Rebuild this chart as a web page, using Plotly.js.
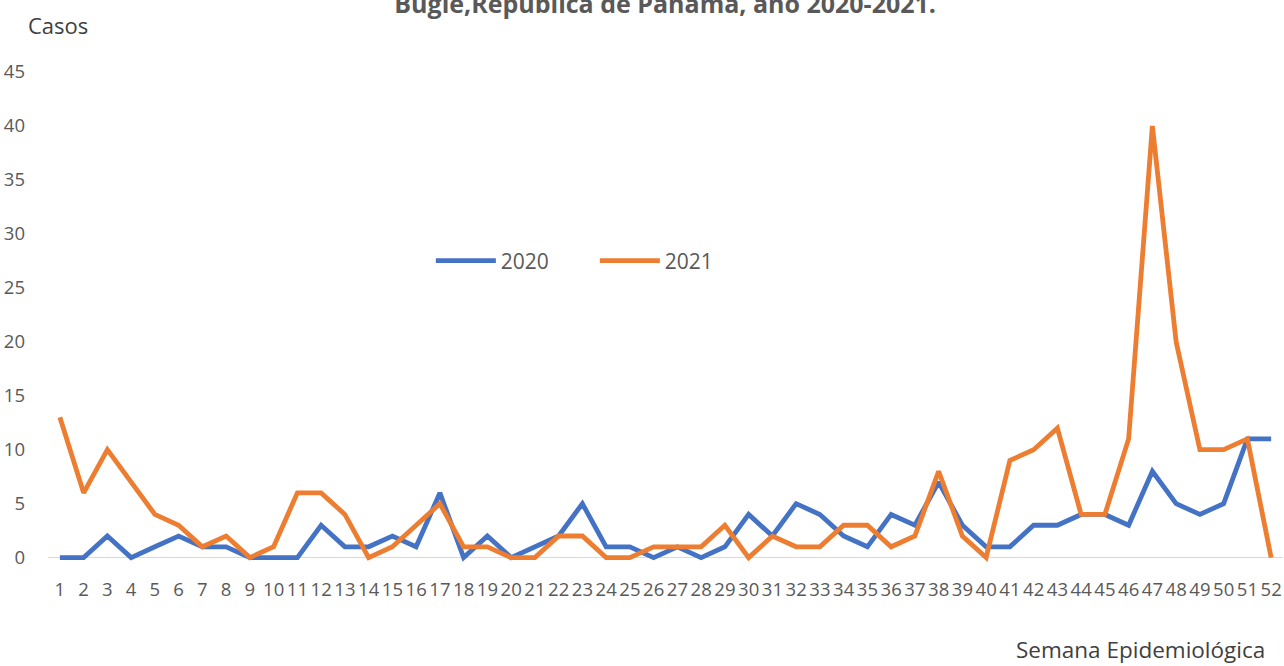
<!DOCTYPE html>
<html>
<head>
<meta charset="utf-8">
<script src="https://cdn.plot.ly/plotly-3.0.1.min.js"></script>
<style>html,body{margin:0;padding:0;background:#fff;}#chart{width:1284px;height:666px;}</style>
</head>
<body>
<div id="chart"></div>
<script>
const weeks = Array.from({length: 52}, (_, i) => i + 1);
const cases2020 = [0,0,2,0,1,2,1,1,0,0,0,3,1,1,2,1,6,0,2,0,1,2,5,1,1,0,1,0,1,4,2,5,4,2,1,4,3,7,3,1,1,3,3,4,4,3,8,5,4,5,11,11];
const cases2021 = [13,6,10,7,4,3,1,2,0,1,6,6,4,0,1,3,5,1,1,0,0,2,2,0,0,1,1,1,3,0,2,1,1,3,3,1,2,8,2,0,9,10,12,4,4,11,40,20,10,10,11,0];
const seriesNames = ["2020", "2021"];
const yTicks = [0,5,10,15,20,25,30,35,40,45];

const fontFam = "'Open Sans', sans-serif";
const gray = "#595959";

const traces = [
  {x: weeks, y: cases2020, name: seriesNames[0], type: "scatter", mode: "lines",
   line: {color: "#4472C4", width: 4.8, shape: "linear"}},
  {x: weeks, y: cases2021, name: seriesNames[1], type: "scatter", mode: "lines",
   line: {color: "#ED7D31", width: 4.8, shape: "linear"}}
];

const layout = {
  width: 1284, height: 666,
  margin: {l: 48, r: 1, t: 72, b: 103},
  paper_bgcolor: "#fff", plot_bgcolor: "#fff",
  font: {family: fontFam, color: gray, size: 18},
  title: {text: "Bugle,República de Panamá, año 2020-2021.", x: 0.518, xanchor: "center",
          y: 0.993, yanchor: "middle", yref: "container",
          font: {family: fontFam, size: 25, color: gray, weight: "bold"}},
  xaxis: {range: [0.5, 52.5], tickmode: "array", tickvals: weeks, ticktext: weeks.map(String),
          showgrid: false, zeroline: false, showline: false, ticks: "",
          tickangle: 0, ticklabelstandoff: 13,
          tickfont: {family: fontFam, size: 18.5, color: gray}, fixedrange: true},
  yaxis: {range: [-0.5, 45], tickmode: "array", tickvals: yTicks, showgrid: false,
          zeroline: true, zerolinecolor: "#d9d9d9", zerolinewidth: 1.5, showline: false, ticks: "",
          ticklabelstandoff: 22,
          tickfont: {family: fontFam, size: 18.5, color: gray}, fixedrange: true},
  showlegend: true,
  legend: {orientation: "h", x: 0.31, xanchor: "left", y: 0.615, yanchor: "middle",
           font: {family: fontFam, size: 21, color: gray}, itemwidth: 60, entrywidth: 89,
           bgcolor: "rgba(0,0,0,0)"},
  annotations: [
    {text: "Casos", xref: "paper", yref: "paper", x: 0.008, y: 1.096, xanchor: "center", yanchor: "middle",
     showarrow: false, font: {family: fontFam, size: 22, color: "#404040"}},
    {text: "Semana Epidemiológica", xref: "paper", yref: "paper", x: 0.987, y: -0.176, xanchor: "right", yanchor: "middle",
     showarrow: false, font: {family: fontFam, size: 22.5, color: "#404040"}}
  ]
};

Plotly.newPlot("chart", traces, layout, {displayModeBar: false, staticPlot: true});
</script>
</body>
</html>
